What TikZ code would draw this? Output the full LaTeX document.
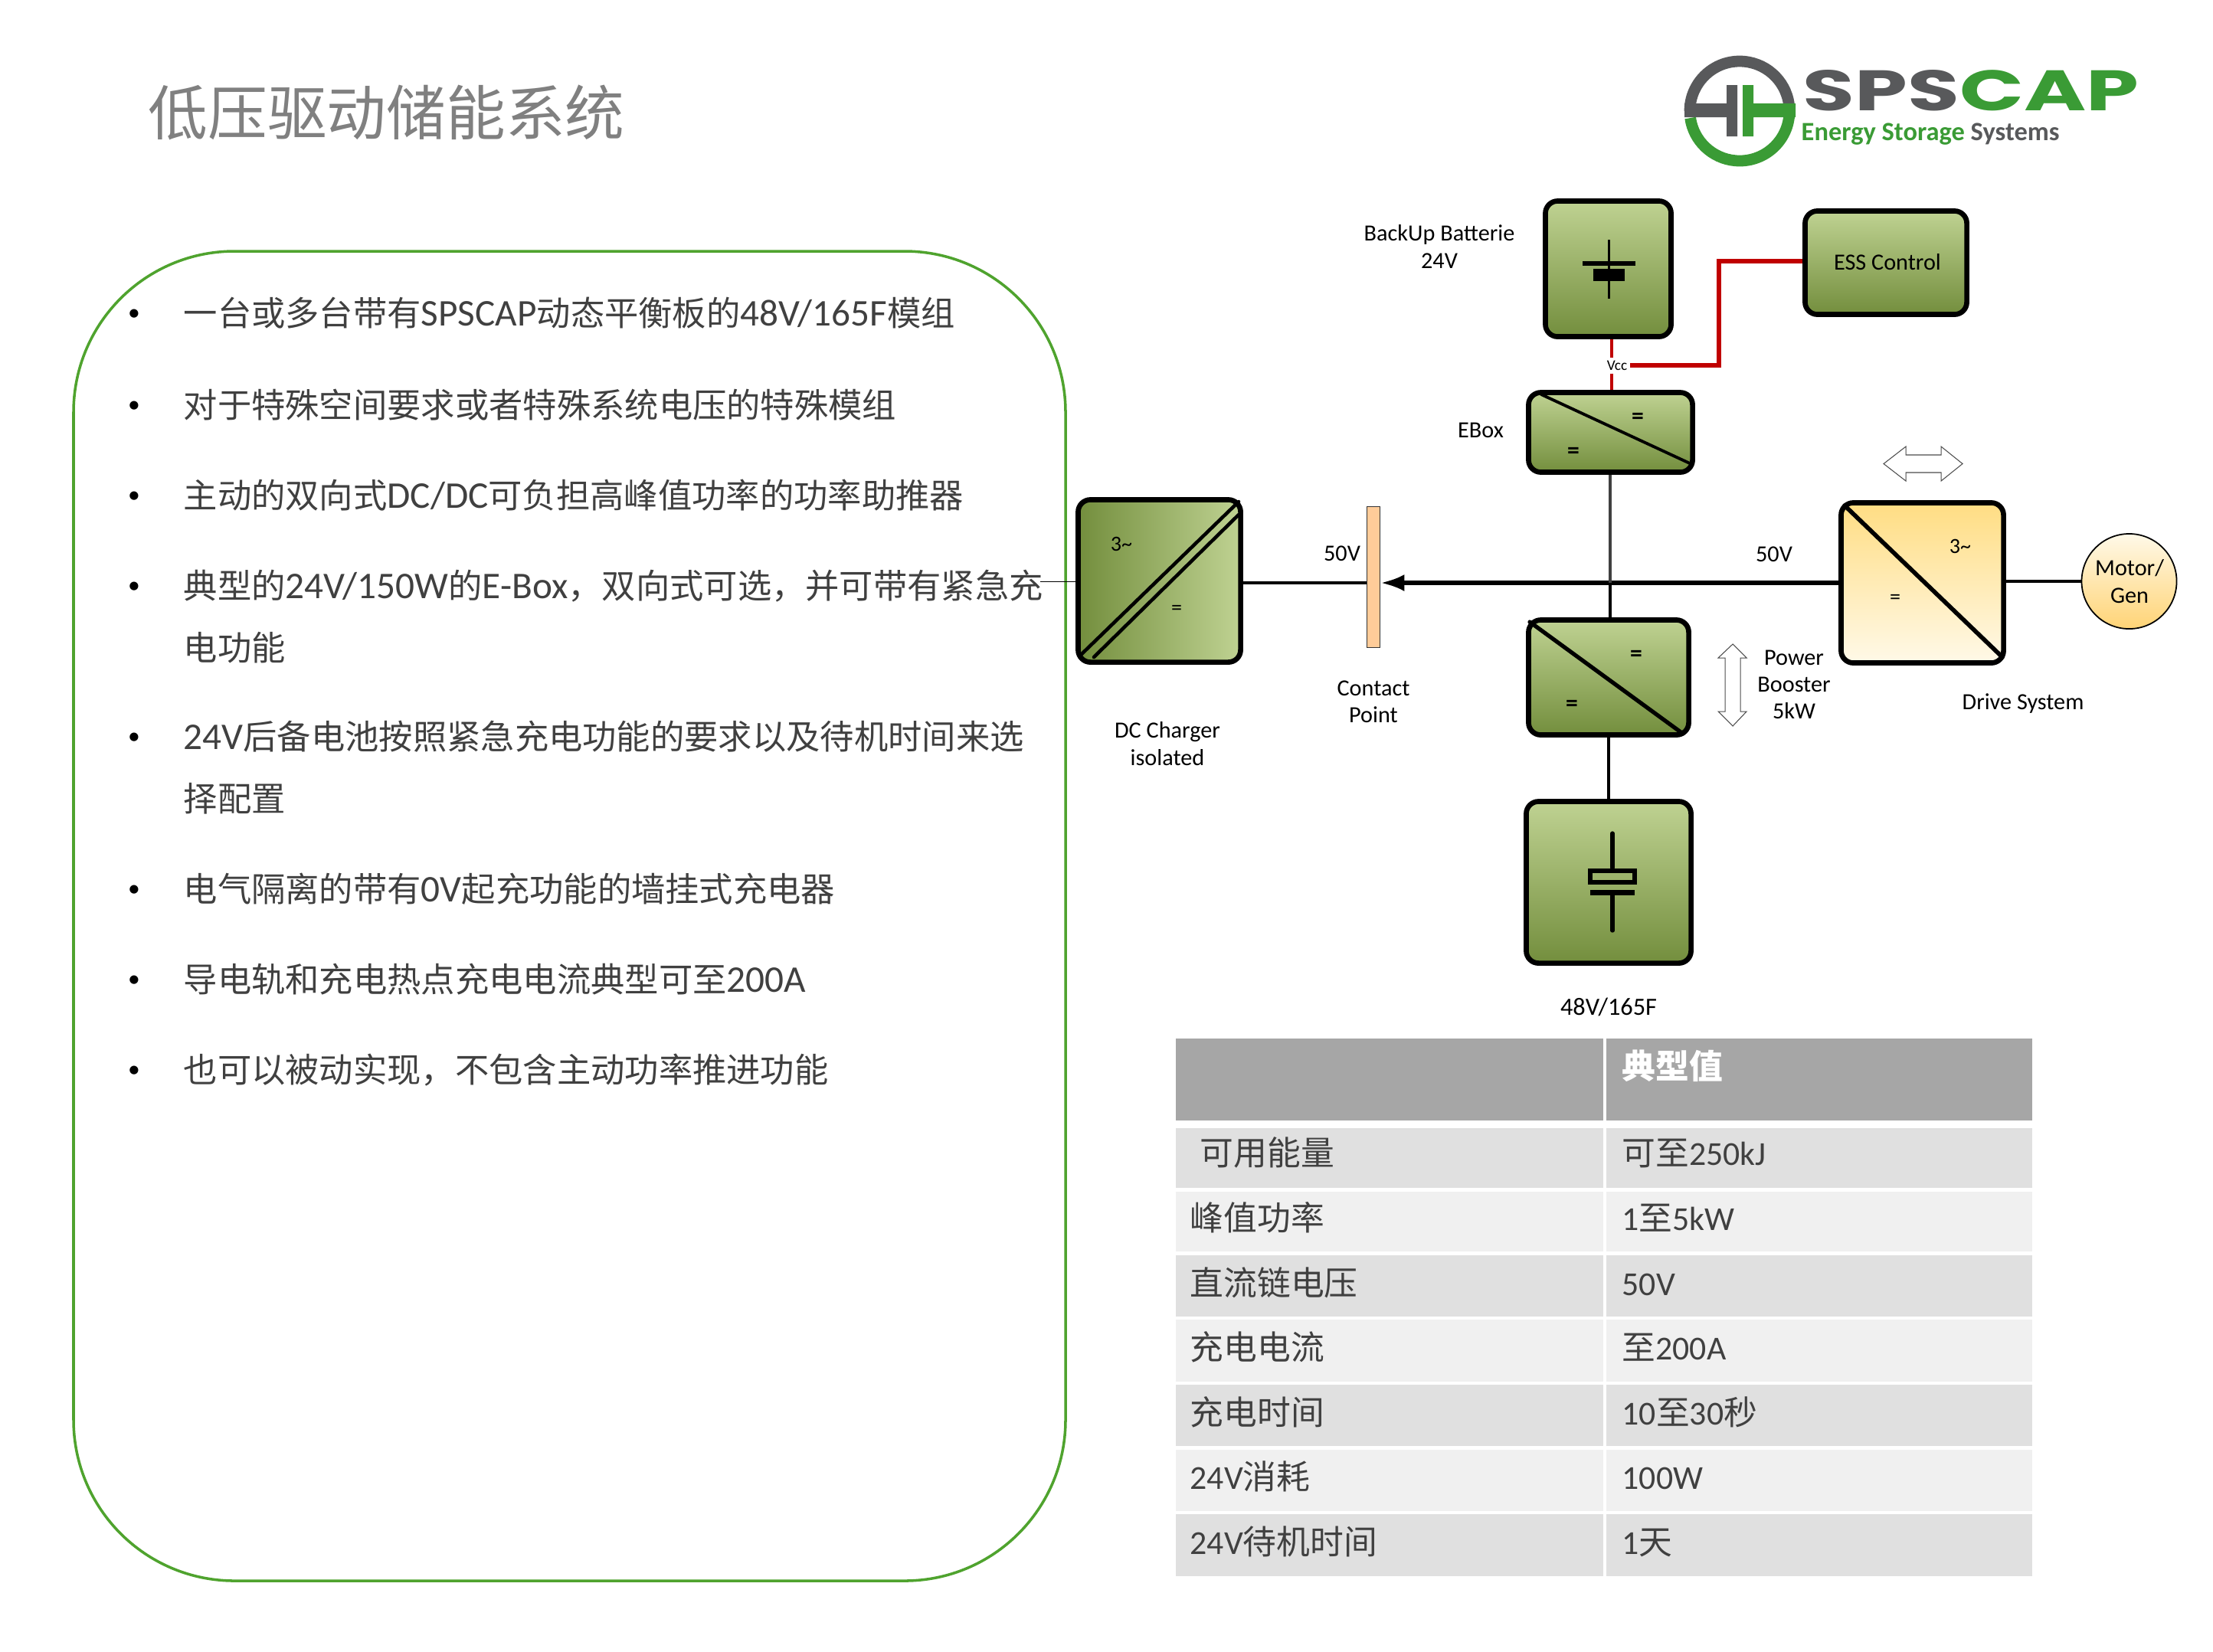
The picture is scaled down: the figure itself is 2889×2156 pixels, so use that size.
\documentclass[tikz,border=0pt]{standalone}
\usepackage{fontspec}
\usetikzlibrary{arrows.meta}
\setmainfont{Carlito}
\newfontfamily\zhfont{Noto Sans CJK SC}
\newfontfamily\zhbody[Scale=0.9]{Noto Sans CJK SC}
\newfontfamily\logofont{Poppins}
\newcommand{\zh}[1]{{\zhfont #1}}
\newcommand{\zb}[1]{{\zhbody #1}}
\definecolor{panelgreen}{HTML}{4FA32E}
\definecolor{boxlight}{HTML}{BFD292}
\definecolor{boxdark}{HTML}{738E3D}
\definecolor{drivetop}{HTML}{FFDD83}
\definecolor{drivelow}{HTML}{FFF9E8}
\definecolor{logogray}{HTML}{58595B}
\definecolor{logogreen}{HTML}{3A9B35}
\definecolor{busred}{HTML}{C00000}
\definecolor{bodytext}{HTML}{404040}
\tikzset{
  boxbase/.style={draw=black, line width=1.9pt, rounded corners=0.16cm, inner sep=0pt},
  greenbox/.style={boxbase, top color=boxlight, bottom color=boxdark},
  chargerbox/.style={boxbase, left color=boxdark, right color=boxlight},
  drivebox/.style={boxbase, top color=drivetop, bottom color=drivelow},
  label/.style={font=\fontsize{8.6}{10}\selectfont, align=center, text=black, inner sep=0pt},
  sign/.style={font=\fontsize{8}{9}\selectfont, inner sep=0pt},
  boldsign/.style={font=\fontsize{9}{9}\selectfont\bfseries, inner sep=0pt},
  bodyline/.style={anchor=base west, font=\fontsize{14}{16}\selectfont, text=bodytext, inner sep=0pt},
  bullet/.style={anchor=base, font=\fontsize{9}{11}\selectfont, text=black, inner sep=0pt},
  tabletext/.style={anchor=base west, font=\fontsize{12.45}{15}\selectfont, text=bodytext, inner sep=0pt},
  bus/.style={line width=1.2pt, draw=black},
  vcc/.style={line width=1.2pt, draw=busred},
  diag/.style={line width=1.1pt, line cap=round},
  flowarrow/.style={draw=black!70, line width=0.3pt, fill=white},
  rowdark/.style={fill=black!12},
  rowpale/.style={fill=black!6}
}
\begin{document}
\begin{tikzpicture}[x=0.01cm, y=-0.01cm]
\useasboundingbox (0,0) rectangle (2889,2156);

% Title
\node[anchor=west, font=\fontsize{22.1}{26}\selectfont\zhfont, text=black!50, inner sep=0pt] (title) at (193,147) {低压驱动储能系统};

% Logo
\draw[logogray, line width=4.2pt] (2271,145) ++(180:65) arc[start angle=180, end angle=352, radius=65];
\draw[logogreen, line width=4.2pt] (2271,145) ++(5:65) arc[start angle=5, end angle=172, radius=65];
\fill[logogray] (2199,135) rectangle (2268,153) (2254,111) rectangle (2268,178);
\fill[logogreen] (2275,135) rectangle (2344,153) (2275,111) rectangle (2289,178);
\node[inner sep=0pt, anchor=north west] (logoname) at (2353,91) {\resizebox{4.38cm}{0.53cm}{\logofont\bfseries\textcolor{logogray}{SPS}\textcolor{logogreen}{CAP}}};
\node[anchor=west, font=\fontsize{9.8}{11}\selectfont\bfseries, inner sep=0pt] (logotag) at (2351,175) {\textcolor{logogreen}{Energy Storage} \textcolor{logogray}{Systems}};

% Rounded panel with the list
\draw[panelgreen, line width=1pt, rounded corners=2.1cm] (96,328) rectangle (1391,2064);
\node[bullet] (b1) at (175,418) {•};
\node[bullet] (b2) at (175,538) {•};
\node[bullet] (b3) at (175,656) {•};
\node[bullet] (b4) at (175,774) {•};
\node[bullet] (b5) at (175,971) {•};
\node[bullet] (b6) at (175,1170) {•};
\node[bullet] (b7) at (175,1288) {•};
\node[bullet] (b8) at (175,1406) {•};
\node[bodyline] (l1) at (239,425) {\zb{一台或多台带有}SPSCAP\zb{动态平衡板的}48V/165F\zb{模组}};
\node[bodyline] (l2) at (239,545) {\zb{对于特殊空间要求或者特殊系统电压的特殊模组}};
\node[bodyline] (l3) at (239,663) {\zb{主动的双向式}DC/DC\zb{可负担高峰值功率的功率助推器}};
\node[bodyline] (l4) at (239,781) {\zb{典型的}24V/150W\zb{的}E-Box\zb{，双向式可选，并可带有紧急充}};
\node[bodyline] (l4b) at (239,862) {\zb{电功能}};
\node[bodyline] (l5) at (239,978) {24V\zb{后备电池按照紧急充电功能的要求以及待机时间来选}};
\node[bodyline] (l5b) at (239,1059) {\zb{择配置}};
\node[bodyline] (l6) at (239,1177) {\zb{电气隔离的带有}0V\zb{起充功能的墙挂式充电器}};
\node[bodyline] (l7) at (239,1295) {\zb{导电轨和充电热点充电电流典型可至}200A};
\node[bodyline] (l8) at (239,1413) {\zb{也可以被动实现，不包含主动功率推进功能}};

% Boxes of the circuit
\node[greenbox, minimum width=1.64cm, minimum height=1.77cm] (backup) at (2099.5,351) {};
\node[greenbox, minimum width=2.11cm, minimum height=1.35cm] (ess) at (2462,343) {};
\node[greenbox, minimum width=2.14cm, minimum height=1.04cm] (ebox) at (2102.5,564.5) {};
\node[greenbox, minimum width=2.09cm, minimum height=1.50cm] (booster) at (2100,884.5) {};
\node[greenbox, minimum width=2.15cm, minimum height=2.11cm] (cap) at (2100,1152) {};
\node[chargerbox, minimum width=2.12cm, minimum height=2.12cm] (charger) at (1513.5,758.5) {};
\node[drivebox, minimum width=2.12cm, minimum height=2.09cm] (drive) at (2509.5,761) {};
\node[draw=black, circle, line width=0.5pt, minimum size=1.24cm, inner sep=0pt, top color=drivelow, bottom color=drivetop!90!orange] (motor) at (2779.5,759) {};
\node[draw=black!80, fill=orange!40!white, line width=0.5pt, minimum width=0.17cm, minimum height=1.84cm, inner sep=0pt] (contact) at (1793,753.5) {};

% Diagonals
\draw[diag] (2012,515) -- (2206,605);
\draw[diag, line width=1.5pt] (1997,812) -- (2197,958);
\draw[diag, line width=1.6pt] (2408,660) -- (2614,858);
\draw[diag, line width=1.3pt] (1411,855) -- (1617,655);
\draw[diag, line width=1.3pt] (1428,858) -- (1617,672);

% Battery symbol
\draw[line width=0.8pt] (2100.5,313) -- (2100.5,390);
\fill (2066,341) rectangle (2135,347);
\fill (2080,351) rectangle (2121,367);

% Capacitor symbol
\draw[line width=1.5pt, line cap=round] (2105,1088) -- (2105,1133);
\draw[line width=1.5pt, line cap=round] (2105,1169) -- (2105,1215);
\draw[line width=1.6pt] (2076,1137) rectangle (2134,1152);
\fill (2076,1162) rectangle (2134,1169);

% Bus lines
\coordinate (bus) at (2102,761);
\draw[bus, line width=1.5pt, -{Latex[length=0.31cm, width=0.22cm]}] (drive.west) -- (contact.east |- bus);
\draw[bus] (charger.east |- bus) -- (contact.west |- bus);
\draw[line width=1.2pt, draw=black!75] (ebox.south -| bus) -- (bus);
\draw[bus] (bus) -- (booster.north -| bus);
\draw[bus] (booster.south) -- (cap.north);
\draw[line width=1.1pt] (drive.east |- motor) -- (motor.west);
\coordinate (panelend) at (1358,759);
\draw[line width=0.3pt] (panelend) -- (charger.west |- panelend);

% Red supply lines
\node[font=\fontsize{5.5}{6}\selectfont, fill=white, inner sep=1pt] (vccnode) at (2111,477) {Vcc};
\coordinate (vccx) at (2104,0);
\coordinate (riser) at (2244,341);
\draw[vcc] (backup.south -| vccx) -- (vccnode.north -| vccx);
\draw[vcc] (vccnode.south -| vccx) -- (ebox.north -| vccx);
\draw[vcc, line width=1.5pt] (vccnode.east) -| (riser) -- (ess.west |- riser);

% Hollow arrows
\draw[flowarrow] (2459,605.5) -- (2488,583) -- (2488,594) -- (2534,594) -- (2534,583) -- (2562,605.5) -- (2534,628) -- (2534,617) -- (2488,617) -- (2488,628) -- cycle;
\draw[flowarrow] (2262,841) -- (2280,859) -- (2272,859) -- (2272,929) -- (2280,929) -- (2262,948) -- (2243,929) -- (2252,929) -- (2252,859) -- (2243,859) -- cycle;

% Labels
\node[label] (lblbackup) at (1879,322) {BackUp Batterie\\24V};
\node[label] (lblcontrol) at (2464,342) {ESS Control};
\node[label] (lblebox) at (1933,562) {EBox};
\node[label] (lblcontact) at (1793,916) {Contact\\Point};
\node[label] (lblcharger) at (1524,971) {DC Charger\\isolated};
\node[label] (lblbusl) at (1752,723) {50V};
\node[label] (lblbusr) at (2316,724) {50V};
\node[label] (lblpower) at (2342,894) {Power\\Booster\\5kW};
\node[label] (lbldrive) at (2641,919) {Drive System};
\node[label] (lblmotor) at (2780,759) {Motor/\\Gen};
\node[label, font=\fontsize{9.2}{10}\selectfont] (lblcap) at (2100,1315) {48V/165F};
\node[sign] (ac1) at (1464,710) {3\textasciitilde};
\node[sign] (dc1) at (1536,796) {=};
\node[sign] (ac2) at (2559,713) {3\textasciitilde};
\node[sign] (dc2) at (2474,782) {=};
\node[boldsign] (dc3) at (2138,546) {=};
\node[boldsign] (dc4) at (2054,591) {=};
\node[boldsign] (dc5) at (2136,856) {=};
\node[boldsign] (dc6) at (2052,921) {=};

% Table
\fill[black!35] (1535,1356) rectangle (2093,1463);
\fill[black!35] (2097,1356) rectangle (2653,1463);
\fill[rowdark] (1535,1473) rectangle (2093,1551);
\fill[rowdark] (2097,1473) rectangle (2653,1551);
\fill[rowpale] (1535,1556) rectangle (2093,1634);
\fill[rowpale] (2097,1556) rectangle (2653,1634);
\fill[rowdark] (1535,1639) rectangle (2093,1719);
\fill[rowdark] (2097,1639) rectangle (2653,1719);
\fill[rowpale] (1535,1723) rectangle (2093,1804);
\fill[rowpale] (2097,1723) rectangle (2653,1804);
\fill[rowdark] (1535,1808) rectangle (2093,1888);
\fill[rowdark] (2097,1808) rectangle (2653,1888);
\fill[rowpale] (1535,1893) rectangle (2093,1973);
\fill[rowpale] (2097,1893) rectangle (2653,1973);
\fill[rowdark] (1535,1977) rectangle (2093,2058);
\fill[rowdark] (2097,1977) rectangle (2653,2058);
\node[tabletext, text=white] (thead) at (2117,1408) {\zh{\bfseries 典型值}};
\node[tabletext] (t1a) at (1566,1521) {\zh{可用能量}};
\node[tabletext] (t1b) at (2117,1521) {\zh{可至}250kJ};
\node[tabletext] (t2a) at (1553,1606) {\zh{峰值功率}};
\node[tabletext] (t2b) at (2117,1606) {1\zh{至}5kW};
\node[tabletext] (t3a) at (1553,1691) {\zh{直流链电压}};
\node[tabletext] (t3b) at (2117,1691) {50V};
\node[tabletext] (t4a) at (1553,1775) {\zh{充电电流}};
\node[tabletext] (t4b) at (2117,1775) {\zh{至}200A};
\node[tabletext] (t5a) at (1553,1860) {\zh{充电时间}};
\node[tabletext] (t5b) at (2117,1860) {10\zh{至}30\zh{秒}};
\node[tabletext] (t6a) at (1553,1944) {24V\zh{消耗}};
\node[tabletext] (t6b) at (2117,1944) {100W};
\node[tabletext] (t7a) at (1553,2029) {24V\zh{待机时间}};
\node[tabletext] (t7b) at (2117,2029) {1\zh{天}};
\end{tikzpicture}
\end{document}
